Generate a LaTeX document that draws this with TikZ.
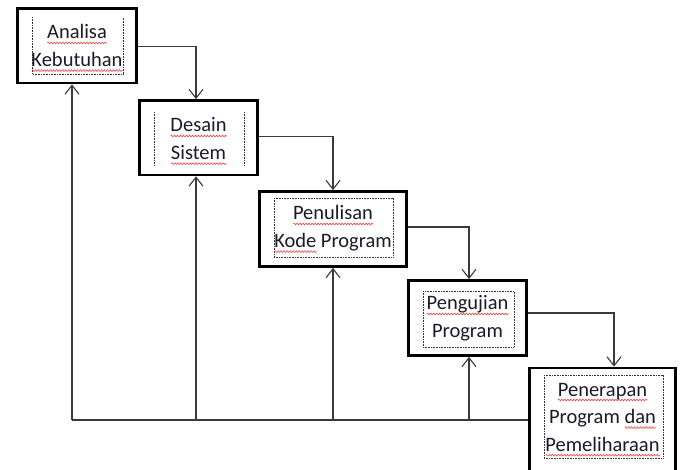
\documentclass[tikz,border=0pt]{standalone}
\usepackage{fontspec}
\setmainfont{Carlito}
\usetikzlibrary{arrows.meta,calc,decorations.pathmorphing}
\definecolor{sqred}{HTML}{F04848}
\definecolor{linegray}{HTML}{3A3A3A}
\definecolor{txt}{HTML}{1A1A2A}
\newsavebox\sqbox
\newdimen\sqw
\newcommand\redsq[1]{\sbox\sqbox{#1}\sqw=\wd\sqbox\relax\rlap{\raisebox{-4pt}[0pt][0pt]{\tikz[x=1pt,y=1pt,baseline=0pt]\draw[sqred,line width=0.6pt,decorate,decoration={zigzag,segment length=3pt,amplitude=0.9pt}] (0,0)--(\sqw,0);}}\usebox\sqbox}
\begin{document}
\begin{tikzpicture}[x=1pt,y=-1pt,
  stage/.style={draw=black,line width=2.7pt,rectangle,inner sep=0pt},
  conn/.style={draw=linegray,line width=1.1pt,-{Straight Barb[length=9pt,width=14pt,line width=1.1pt]}},
  fline/.style={draw=linegray,line width=1.1pt},
  dotbox/.style={draw=black!80,line width=0.7pt,dash pattern=on 0.8pt off 0.8pt},
  lbl/.style={anchor=base,inner sep=0pt,text=txt,font=\fontsize{20.5}{27.6}\selectfont}
]
\useasboundingbox (0,0) rectangle (683,470);
% stages (stroke centre lines)
\node[stage,minimum width=119pt,minimum height=74.5pt] (b1) at (77,45.75) {};
\node[stage,minimum width=118pt,minimum height=74.5pt] (b2) at (198.5,137.75) {};
\node[stage,minimum width=147pt,minimum height=75pt] (b3) at (333,229) {};
\node[stage,minimum width=118pt,minimum height=75pt] (b4) at (467.5,318) {};
\node[stage,minimum width=146pt,minimum height=103pt] (b5) at (602.5,419.5) {};
% dotted text frames
\draw[dotbox] (32.5,17) -- (32.5,74) -- (123,74) -- (123,18);
\draw[dotbox] (154,112) -- (154,166);
\draw[dotbox] (244,112) -- (244,166);
\draw[dotbox] (274,198) rectangle (393,257);
\draw[dotbox] (423,291) rectangle (514,347);
\draw[dotbox] (544,375) rectangle (663,458);
% texts
\node[lbl] (t1) at (77,39) {\begin{tabular}[t]{@{}c@{}}\redsq{Analisa}\\\redsq{Kebutuhan}\end{tabular}};
\node[lbl] (t2) at (198.5,132) {\begin{tabular}[t]{@{}c@{}}\redsq{Desain}\\\redsq{Sistem}\end{tabular}};
\node[lbl] (t3) at (333,220) {\begin{tabular}[t]{@{}c@{}}\redsq{Penulisan}\\\redsq{Kode} Program\end{tabular}};
\node[lbl] (t4) at (467.5,310) {\begin{tabular}[t]{@{}c@{}}\redsq{Pengujian}\\Program\end{tabular}};
\node[lbl] (t5) at (602.5,396) {\begin{tabular}[t]{@{}c@{}}\redsq{Penerapan}\\Program \redsq{dan}\\\redsq{Pemeliharaan}\end{tabular}};
% forward connectors
\draw[conn] ([yshift=-1pt]b1.east) -| ([xshift=-2.5pt]b2.north);
\draw[conn] ([yshift=1.5pt]b2.east) -| (b3.north);
\draw[conn] ([yshift=2pt]b3.east) -| ([xshift=1.5pt]b4.north);
\draw[conn] ([yshift=5pt]b4.east) -| ([xshift=11.5pt]b5.north);
% feedback line
\coordinate (f1) at (72,420);
\coordinate (f2) at (196,420);
\coordinate (f3) at (333,420);
\coordinate (f4) at (469,420);
\draw[fline] (b5.west |- f1) -- (f1);
\draw[conn] (f1) -- (f1 |- b1.south);
\draw[conn] (f2) -- (f2 |- b2.south);
\draw[conn] (f3) -- (f3 |- b3.south);
\draw[conn] (f4) -- (f4 |- b4.south);
\end{tikzpicture}
\end{document}
